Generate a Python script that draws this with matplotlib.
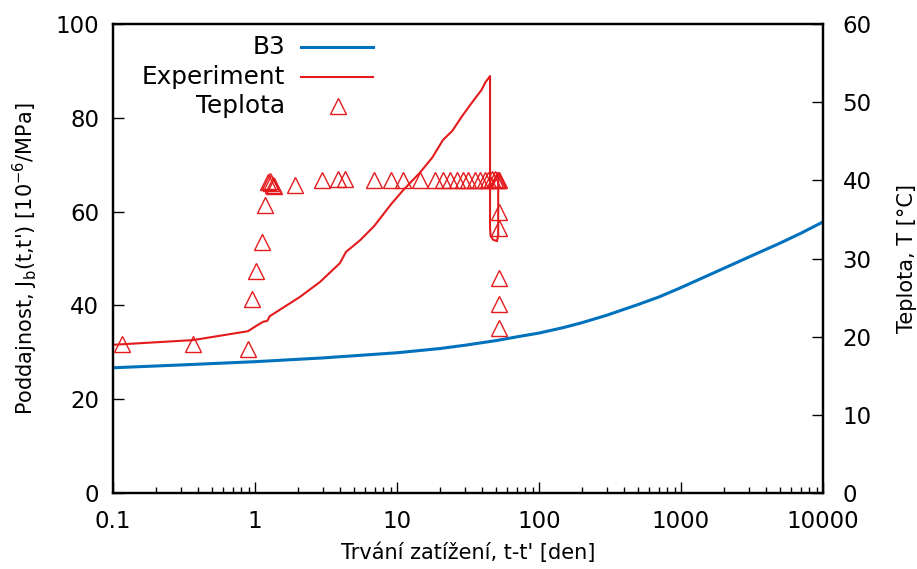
import numpy as np
import matplotlib
matplotlib.use("Agg")
import matplotlib.pyplot as plt
from matplotlib.ticker import LogLocator, FixedLocator, NullFormatter

# ---- data ----
b3_t = [0.1, 0.3, 1, 3, 10, 20, 30, 50, 70, 100, 150, 200, 300, 500, 700,
        1000, 1500, 2000, 3000, 5000, 7000, 10000]
b3_J = [26.7, 27.3, 28.0, 28.8, 29.9, 30.8, 31.5, 32.5, 33.3, 34.1, 35.3, 36.3, 37.9, 40.2, 41.8,
        43.8, 46.2, 47.9, 50.3, 53.3, 55.4, 57.8]

exp_t = [0.1, 0.366, 0.893, 1.016, 1.14, 1.22, 1.27, 1.38, 2.07, 2.87, 3.96, 4.37, 5.5, 6.9,
         9.1, 11.0, 14.5, 17.7, 21.1, 24.5, 28.5, 34.0, 39.3, 42.0, 44.5, 45.2, 45.2, 45.6,
         47.5, 50.6, 51.6, 51.6]
exp_J = [31.6, 32.6, 34.5, 35.6, 36.5, 36.7, 37.7, 38.4, 41.8, 45.0, 49.0, 51.4, 53.9, 56.9,
         61.6, 64.5, 68.3, 71.5, 75.3, 77.2, 80.2, 83.4, 85.9, 87.6, 88.6, 88.9, 56.5, 54.8,
         54.0, 53.7, 55.0, 67.5]

temp_t = [0.116, 0.366, 0.893, 0.953, 1.016, 1.12, 1.176, 1.235, 1.27, 1.296, 1.339, 1.36,
          1.913, 2.96, 3.84, 4.30, 6.89, 9.07, 11.0, 14.5, 18.5, 21.1, 23.6, 26.5, 29.2, 31.6,
          35.4, 38.4, 41.7, 43.7, 46.7, 49.0, 50.5, 51.3, 52.4,
          52.2, 52.2, 52.2, 52.2, 52.2]
temp_T = [19.1, 19.1, 18.4, 24.8, 28.4, 32.1, 36.8, 39.8, 39.9, 39.7, 39.4, 39.3,
          39.4, 40.0, 40.2, 40.2, 40.0, 40.0, 40.0, 40.0, 40.0, 40.0, 40.0, 40.0, 40.0, 40.0,
          40.0, 40.0, 40.0, 40.1, 40.2, 40.2, 40.1, 40.0, 40.0,
          35.9, 33.9, 27.5, 24.2, 21.1]

x_ticks = [0.1, 1, 10, 100, 1000, 10000]
x_ticklabels = ["0.1", "1", "10", "100", "1000", "10000"]
yl_ticks = [0, 20, 40, 60, 80, 100]
yr_ticks = [0, 10, 20, 30, 40, 50, 60]

blue = "#0072bd"
red = "#e41a1c"
fs_tick = 16.5
fs_lab = 15
fs_leg = 17.8

fig = plt.figure(figsize=(9.17, 5.69), dpi=100)
ax = fig.add_axes([113/917, 76/569, 710/917, 469/569])
ax2 = ax.twinx()

ax.plot(b3_t, b3_J, color=blue, lw=2.2, zorder=3)
ax.plot(exp_t, exp_J, color=red, lw=1.5, zorder=4)
ax2.plot(temp_t, temp_T, linestyle="none", marker="^", markersize=11,
         markerfacecolor="none", markeredgecolor=red, markeredgewidth=1.0)

ax.set_xscale("log")
ax.set_xlim(0.1, 10000)
ax.set_ylim(0, 100)
ax2.set_ylim(0, 60)

ax.xaxis.set_major_locator(FixedLocator(x_ticks))
ax.set_xticklabels(x_ticklabels)
ax.xaxis.set_minor_locator(LogLocator(base=10, subs=np.arange(2, 10)))
ax.xaxis.set_minor_formatter(NullFormatter())
ax.set_yticks(yl_ticks)
ax2.set_yticks(yr_ticks)

ax.tick_params(axis="x", which="major", direction="in", length=8, width=1, labelsize=fs_tick, pad=12, top=False)
ax.tick_params(axis="x", which="minor", direction="in", length=4.5, width=1, top=False)
ax.tick_params(axis="y", which="major", direction="in", length=8, width=1, labelsize=fs_tick, pad=10, right=False)
ax2.tick_params(axis="y", which="major", direction="in", length=8, width=1, labelsize=fs_tick, pad=14)
ax.tick_params(axis="y", which="minor", left=False, right=False)
ax2.tick_params(axis="y", which="minor", left=False, right=False)

for a in (ax, ax2):
    for s in a.spines.values():
        s.set_linewidth(1.6)
        s.set_color("black")

ax.set_xlabel("Trvání zatížení, t-t' [den]", fontsize=fs_lab, labelpad=7)
ax.set_ylabel(r"Poddajnost, J$_\mathregular{b}$(t,t') [10$^\mathregular{-6}$/MPa]", fontsize=fs_lab, labelpad=11)
ax2.set_ylabel("Teplota, T [°C]", fontsize=fs_lab, labelpad=18)

# gnuplot-style legend: right-aligned labels, samples to the right
def px(x, y):
    return ((x - 113) / 710, (493 - y) / 469)

rows = [("B3", 47, dict(color=blue, lw=2.2)),
        ("Experiment", 77, dict(color=red, lw=1.5)),
        ("Teplota", 106, None)]
for label, yy, style in rows:
    tx, ty = px(285, yy)
    ax.text(tx, ty, label, transform=ax.transAxes, ha="right", va="center", fontsize=fs_leg)
    x0, y0 = px(301, yy)
    x1, _ = px(373, yy)
    if style is not None:
        ax.plot([x0, x1], [y0, y0], transform=ax.transAxes, **style)
    else:
        xm, ym = px(338, yy)
        ax.plot([xm], [ym], transform=ax.transAxes, linestyle="none", marker="^", markersize=11,
                markerfacecolor="none", markeredgecolor=red, markeredgewidth=1.0)

fig.savefig("out.png", dpi=100)
